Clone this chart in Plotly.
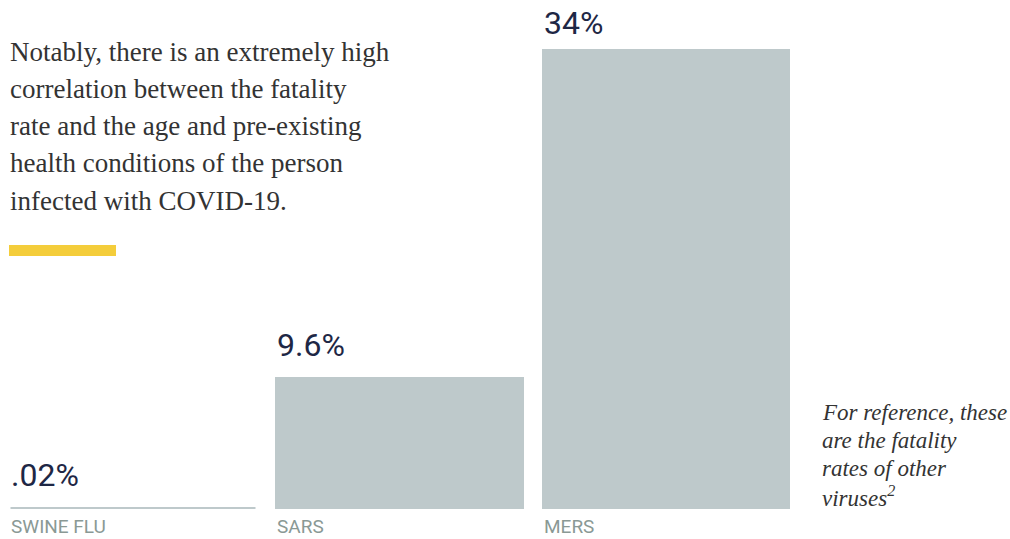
import plotly.graph_objects as go

# ---- data ----
categories = ["SWINE FLU", "SARS", "MERS"]
fatality = [0.02, 9.6, 34]
value_labels = [".02%", "9.6%", "34%"]
body_lines = [
    "Notably, there is an extremely high",
    "correlation between the fatality",
    "rate and the age and pre-existing",
    "health conditions of the person",
    "infected with COVID-19.",
]
note_lines = [
    "For reference, these",
    "are the fatality",
    "rates of other",
    "viruses<sup>2</sup>",
]

# ---- layout constants ----
W, H = 1010, 539
T, B, L, R = 49, 30, 0, 210
PH = H - T - B
PW = W - L - R
BAR_W = 0.919
BAR_COLOR = "#bec9cb"
VAL_COLOR = "#1e2745"
CAT_COLOR = "#8a9995"
TEXT_COLOR = "#333333"


def py(p):
    return (H - B - p) / PH


def px(p):
    return (p - L) / PW


xs = list(range(len(categories)))

fig = go.Figure()
fig.add_trace(go.Bar(
    x=xs, y=fatality, width=BAR_W,
    marker=dict(color=BAR_COLOR, line=dict(color=BAR_COLOR, width=3)),
    hoverinfo="skip", showlegend=False,
))

annotations = []
val_shift = [13.7, 13.7, 5.7]
cat_fs = 19
for i, (v, lab, cat) in enumerate(zip(fatality, value_labels, categories)):
    annotations.append(dict(
        x=i - BAR_W / 2, y=v, xref="x", yref="y", text=lab, showarrow=False,
        xanchor="left", yanchor="bottom", yshift=val_shift[i], xshift=-1, borderpad=0,
        font=dict(family="Roboto", size=32, color=VAL_COLOR),
    ))
    annotations.append(dict(
        x=i - BAR_W / 2, y=py(534.5 + 0.244 * cat_fs), xref="x", yref="paper",
        text=cat, showarrow=False,
        xanchor="left", yanchor="bottom", xshift=-1, borderpad=0,
        font=dict(family="Roboto", size=cat_fs, color=CAT_COLOR),
    ))

body_fs = 27
for k, line in enumerate(body_lines):
    base = 61 + k * 37.2
    annotations.append(dict(
        x=px(9), y=py(base - 0.3375 * body_fs), xref="paper", yref="paper",
        text=line, showarrow=False, xanchor="left", yanchor="middle", borderpad=0,
        font=dict(family="Liberation Serif", size=body_fs, color=TEXT_COLOR),
    ))

note_fs = 23
for k, line in enumerate(note_lines):
    base = 420 + k * 28
    annotations.append(dict(
        x=px(821), y=py(base - 0.3375 * note_fs), xref="paper", yref="paper",
        text="<i>" + line + "</i>", showarrow=False, xanchor="left", yanchor="middle",
        borderpad=0,
        font=dict(family="Liberation Serif", size=note_fs, color=TEXT_COLOR),
    ))

fig.add_shape(type="rect", xref="paper", yref="paper",
              x0=px(9), x1=px(116), y0=py(256), y1=py(245),
              fillcolor="#f4cd3b", line=dict(width=0))

fig.update_layout(
    width=W, height=H,
    margin=dict(t=T, b=B, l=L, r=R, pad=0),
    paper_bgcolor="white", plot_bgcolor="white",
    xaxis=dict(range=[-0.5, 2.5], visible=False, fixedrange=True),
    yaxis=dict(range=[0, 34], visible=False, fixedrange=True),
    annotations=annotations,
    bargap=0,
)

fig.write_html("out.html", config={"displayModeBar": False})
